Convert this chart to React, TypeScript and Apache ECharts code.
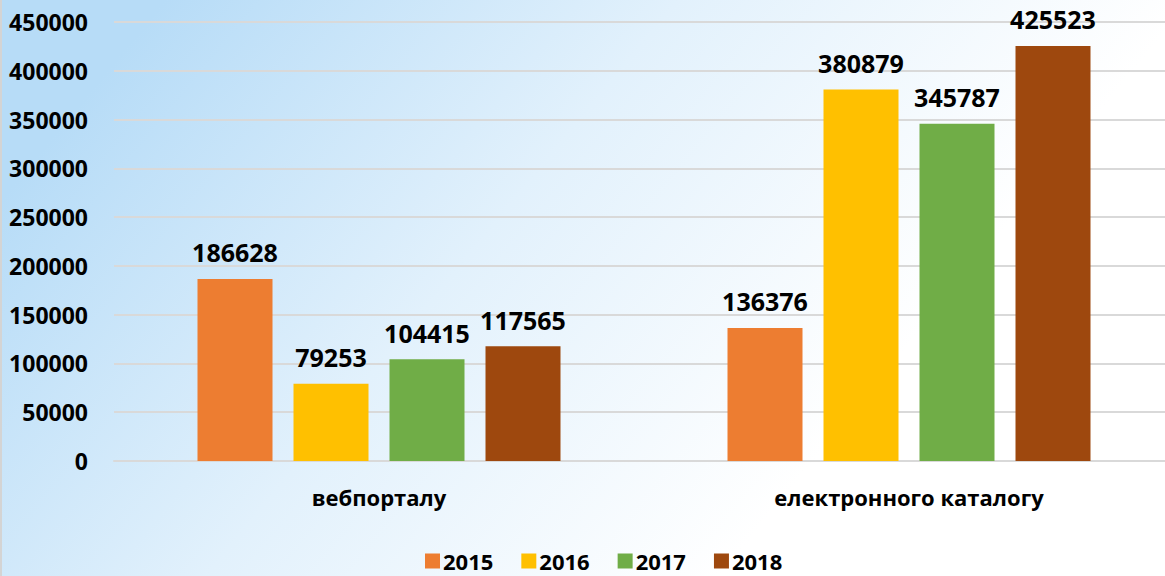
import React, { useEffect, useRef } from "react";
import * as echarts from "echarts";

const categories = ["вебпорталу", "електронного каталогу"];
const years = ["2015", "2016", "2017", "2018"];
const values2015 = [186628, 136376];
const values2016 = [79253, 380879];
const values2017 = [104415, 345787];
const values2018 = [117565, 425523];
const colors = ["#ED7D31", "#FFC000", "#70AD47", "#9E480E"];

const FONT = "'Open Sans', 'Noto Sans', sans-serif";

export default function App() {
  const ref = useRef<HTMLDivElement>(null);
  useEffect(() => {
    if (!ref.current) return;
    const chart = echarts.init(ref.current, undefined, { renderer: "svg" });
    const seriesData = [values2015, values2016, values2017, values2018];
    chart.setOption({
      animation: false,
      backgroundColor: {
        type: "linear",
        x: 0,
        y: 0.35,
        x2: 0.75,
        y2: 0.65,
        colorStops: [
          { offset: 0, color: "#b7dcf7" },
          { offset: 0.5, color: "#e2f1fc" },
          { offset: 1, color: "#ffffff" },
        ],
      },
      graphic: [
        {
          type: "rect",
          left: 0,
          top: 0,
          shape: { width: 2, height: 576 },
          style: { fill: "#d4d4d4" },
          silent: true,
        },
      ],
      legend: {
        data: years,
        left: 425,
        top: 550,
        padding: 0,
        itemWidth: 15,
        itemHeight: 15,
        itemGap: 28,
        icon: "rect",
        textStyle: {
          fontFamily: FONT,
          fontWeight: "bold",
          fontSize: 22,
          lineHeight: 20,
          color: "#000",
          padding: [0, 0, 0, -2],
        },
      },
      grid: { left: 114, top: 22, width: 1060, bottom: 115, containLabel: false },
      xAxis: {
        type: "category",
        data: categories,
        axisLine: { lineStyle: { color: "#d9d9d9", width: 2 } },
        axisTick: { show: false },
        axisLabel: {
          margin: 25,
          fontFamily: FONT,
          fontWeight: "bold",
          fontSize: 22,
          color: "#000",
        },
      },
      yAxis: {
        type: "value",
        min: 0,
        max: 450000,
        interval: 50000,
        axisLine: { show: false },
        axisTick: { show: false },
        splitLine: { lineStyle: { color: "#d9d9d9", width: 2 } },
        axisLabel: {
          margin: 26,
          fontFamily: FONT,
          fontWeight: "bold",
          fontSize: 23,
          color: "#000",
          formatter: (v: number) => String(v),
        },
      },
      series: years.map((y, i) => ({
        name: y,
        type: "bar",
        data: seriesData[i],
        barWidth: 75,
        barGap: "28%",
        itemStyle: { color: colors[i] },
        label: {
          show: true,
          position: "top",
          distance: 14,
          fontFamily: FONT,
          fontWeight: "bold",
          fontSize: 25,
          color: "#000",
        },
      })),
    });
    return () => chart.dispose();
  }, []);
  return (
    <div
      ref={ref}
      style={{ position: "fixed", left: 0, top: 0, width: 1180, height: 576 }}
    />
  );
}
